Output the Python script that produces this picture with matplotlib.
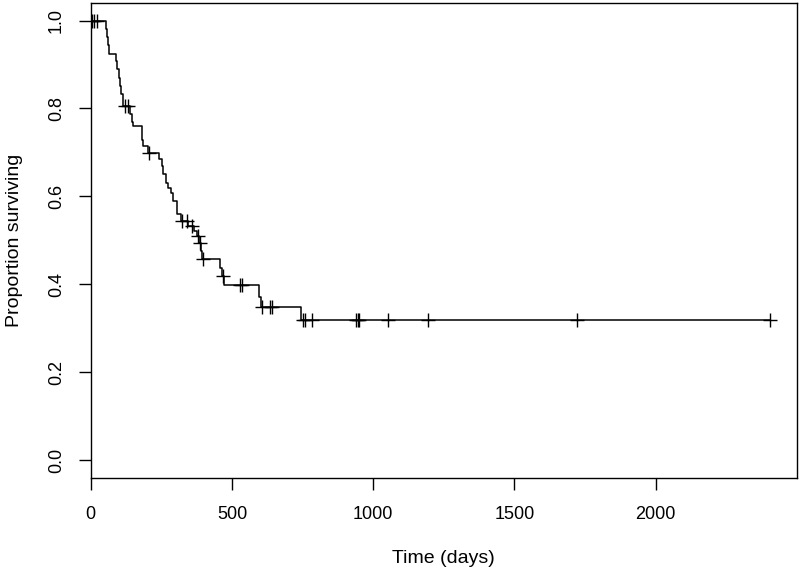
import matplotlib
matplotlib.use("Agg")
import matplotlib.pyplot as plt
import numpy as np

# Kaplan-Meier step function
step_times = [0, 55, 58, 62, 66, 88, 93, 99, 104, 108, 113, 116, 138, 145, 149,
              180, 183, 186, 204, 243, 251, 257, 266, 275, 283, 290, 307, 318,
              343, 365, 375, 384, 390, 395, 457, 465, 471, 597, 602, 746]
step_surv = [1.0, 0.981, 0.963, 0.944, 0.925, 0.907, 0.889, 0.870, 0.852, 0.833,
             0.815, 0.806, 0.788, 0.770, 0.760, 0.742, 0.728, 0.714, 0.698, 0.684,
             0.669, 0.650, 0.631, 0.620, 0.608, 0.590, 0.559, 0.544, 0.533, 0.522,
             0.510, 0.495, 0.476, 0.457, 0.438, 0.418, 0.399, 0.372, 0.348, 0.318]

# censoring times
censor_times = [5, 12, 22, 122, 131, 207, 322, 340, 360, 380, 387, 398, 469, 528,
                534, 605, 635, 640, 750, 760, 783, 938, 945, 950, 1054, 1194,
                1720, 2403]

x_ticks = [0, 500, 1000, 1500, 2000]
y_ticks = [0.0, 0.2, 0.4, 0.6, 0.8, 1.0]
x_label = "Time (days)"
y_label = "Proportion surviving"

plt.rcParams['font.family'] = ['Liberation Sans', 'DejaVu Sans']

fig = plt.figure(figsize=(8, 5.72), dpi=100)
ax = fig.add_axes([0.1134, 0.1649, 0.9959 - 0.1134, 0.9948 - 0.1649])

t_end = max(censor_times)
xs = list(step_times) + [t_end]
ys = list(step_surv) + [step_surv[-1]]
ax.step(xs, ys, where='post', color='black', lw=1.1)

st = np.array(step_times)
sv = np.array(step_surv)
cens_surv = [sv[np.searchsorted(st, c, side='right') - 1] for c in censor_times]
ax.plot(censor_times, cens_surv, linestyle='none', marker='+', color='black',
        markersize=10, markeredgewidth=1.0)

ax.set_xlim(0, t_end * 1.04)
ax.set_ylim(-0.04, 1.04)
ax.set_xticks(x_ticks)
ax.set_xticklabels([str(v) for v in x_ticks])
ax.set_yticks(y_ticks)
ax.set_yticklabels([f"{v:.1f}" for v in y_ticks], rotation=90, va='center')
ax.tick_params(axis='both', direction='out', length=8.5, width=1.0,
               labelsize=13, color='black')
ax.tick_params(axis='x', pad=12)
ax.tick_params(axis='y', pad=10)
for s in ax.spines.values():
    s.set_linewidth(1.0)
    s.set_color('black')

ax.set_xlabel(x_label, fontsize=14, labelpad=19)
ax.set_ylabel(y_label, fontsize=14, labelpad=18)

fig.savefig("out.png", dpi=100)
